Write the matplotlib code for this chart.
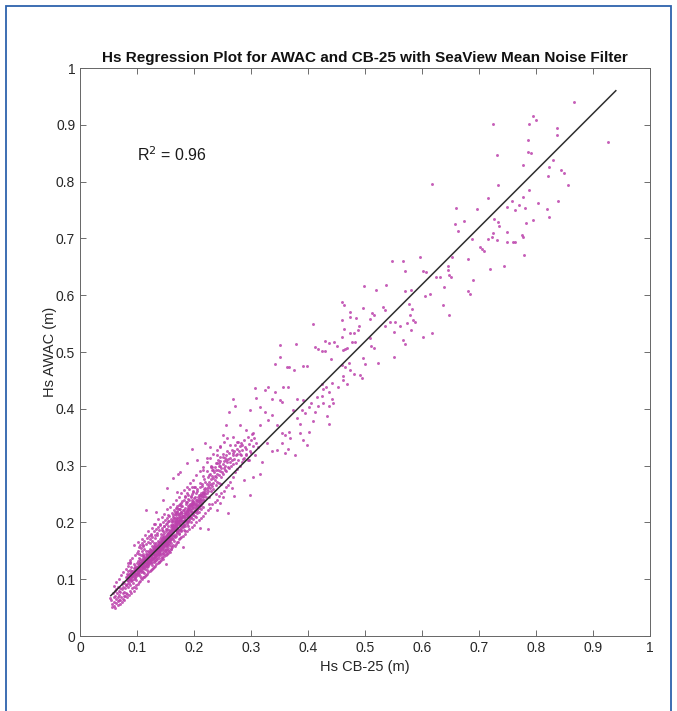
import matplotlib
matplotlib.use('Agg')
import matplotlib.pyplot as plt
import numpy as np
from matplotlib.patches import Rectangle

plt.rcParams['font.family'] = ['Liberation Sans', 'DejaVu Sans']

# Hs pairs (CB-25, AWAC) in thousandths of a metre
# scattered points above ~0.3 m and outliers
sparse_pts = [
    (867, 940), (725, 902), (794, 915), (800, 908), (787, 902), (837, 894), (836, 882), (926, 870),
    (786, 873), (732, 847), (786, 852), (791, 850), (778, 830), (829, 838), (823, 825), (821, 809),
    (844, 820), (849, 816), (856, 794), (733, 794), (787, 785), (777, 773), (715, 772), (758, 765),
    (804, 763), (839, 766), (770, 758), (749, 756), (781, 753), (763, 750), (820, 752), (696, 751),
    (823, 737), (727, 735), (617, 795), (660, 754),
    (658, 725), (663, 713), (673, 731), (734, 729), (735, 722), (725, 709), (722, 702), (715, 699),
    (731, 698), (702, 684), (705, 681), (708, 678), (749, 712), (749, 693), (759, 694), (764, 693),
    (775, 706), (778, 702), (782, 727), (794, 732), (779, 671), (744, 651), (719, 647), (689, 627),
    (680, 608), (685, 602), (681, 663), (688, 699), (548, 661), (566, 661), (596, 668), (570, 642),
    (602, 643), (607, 640), (625, 632), (632, 632), (646, 644), (647, 636), (651, 632), (646, 651),
    (652, 667), (639, 614), (614, 602), (606, 598), (580, 610), (570, 608), (537, 618), (531, 580),
    (535, 574), (578, 585), (582, 575), (579, 565), (584, 556), (553, 553), (544, 553), (535, 545),
    (550, 536), (561, 545), (573, 551), (588, 553), (580, 539), (602, 526), (617, 533), (637, 583),
    (648, 566),
    (409, 549), (379, 514), (459, 588), (463, 583), (496, 577), (513, 569), (515, 565), (509, 558),
    (485, 559), (490, 546), (473, 571), (474, 562), (459, 556), (463, 540), (473, 533), (480, 533),
    (477, 518), (482, 518), (488, 539), (509, 524), (511, 511), (515, 507), (496, 489), (500, 479),
    (523, 481), (468, 507), (465, 505), (440, 487), (412, 508), (418, 505), (424, 502), (430, 502),
    (430, 520), (436, 515), (392, 475), (398, 475), (375, 468), (459, 477), (465, 473), (473, 468),
    (462, 457), (461, 451), (491, 460), (494, 454), (468, 444), (453, 439), (442, 445), (424, 443),
    (427, 434), (432, 438), (415, 421), (424, 423), (437, 430), (442, 418), (444, 410), (437, 405),
    (427, 410), (418, 405), (406, 410), (401, 404), (392, 415), (380, 418), (374, 398), (389, 398),
    (395, 392), (380, 383), (386, 374), (412, 395), (433, 387), (436, 374), (408, 379), (550, 492),
    (570, 514), (567, 521),
    (498, 616), (519, 610), (350, 512), (351, 492), (342, 478), (363, 474), (367, 473), (342, 430),
    (446, 518), (450, 510), (459, 526), (462, 504), (472, 480), (480, 462),
    (307, 436), (325, 433), (330, 438), (357, 438), (365, 439), (351, 415), (354, 412), (336, 417),
    (316, 404), (309, 419), (298, 398), (269, 417), (262, 395), (272, 405), (386, 357), (367, 360),
    (354, 357), (360, 354), (345, 371), (336, 389), (325, 395), (330, 380), (315, 371), (304, 357),
    (292, 363), (281, 371), (269, 351), (257, 371), (251, 354), (246, 333), (263, 336), (275, 342),
    (284, 336), (292, 330), (313, 333), (328, 339), (336, 325), (307, 319), (295, 310), (281, 320),
    (269, 322), (257, 310), (243, 304), (240, 319), (228, 333), (222, 313), (231, 298), (216, 292),
    (360, 322), (377, 319), (354, 339), (368, 348), (392, 345), (398, 336),
    (365, 329), (319, 307), (304, 280), (298, 248), (316, 286), (266, 260), (287, 275), (345, 327),
    (402, 360), (260, 216), (225, 188), (246, 234), (251, 245), (115, 222), (146, 239), (172, 286),
    (175, 289), (196, 329), (164, 278), (170, 254), (134, 219), (152, 260), (187, 304), (205, 310),
    (219, 339), (88, 128), (129, 198),
]

# dense band below ~0.3 m
band_low = [
    (52, 67), (55, 63), (56, 56), (58, 75), (59, 69), (60, 60), (61, 79), (62, 71), (63, 65), (64, 83),
    (65, 76), (66, 68), (67, 87), (68, 80), (68, 63), (69, 73), (70, 85), (71, 77), (72, 69), (73, 91),
    (74, 82), (75, 75), (75, 95), (76, 86), (77, 78), (78, 71), (78, 93), (79, 84), (80, 89), (80, 76),
    (57, 51), (59, 53),
    (81, 104), (81, 89), (82, 98), (82, 110), (83, 92), (83, 103), (84, 86), (84, 99), (85, 107), (85, 114),
    (86, 94), (86, 102), (87, 109), (87, 90), (88, 100), (88, 117), (89, 106), (89, 96), (90, 111), (90, 103),
    (90, 122), (91, 98), (91, 108), (92, 115), (92, 104), (93, 93), (93, 111), (94, 120), (94, 107), (95, 100),
    (95, 114), (95, 126), (96, 109), (96, 102), (97, 117), (97, 124), (98, 106), (98, 113), (99, 99), (99, 120),
    (100, 110), (100, 128), (100, 117), (84, 124), (88, 130),
    (101, 107), (101, 124), (101, 116), (102, 132), (102, 113), (102, 121), (103, 127), (103, 110), (103, 138),
    (104, 119), (104, 125), (104, 114), (105, 132), (105, 122), (105, 106), (106, 129), (106, 117), (106, 136),
    (107, 124), (107, 113), (107, 142), (108, 128), (108, 120), (108, 134), (109, 115), (109, 131), (109, 125),
    (110, 138), (110, 122), (110, 129), (110, 113), (111, 133), (111, 126), (111, 145), (112, 120), (112, 136),
    (112, 130), (113, 124), (113, 141), (113, 133), (114, 118), (114, 127), (114, 138), (115, 131), (115, 144),
    (115, 123), (116, 135), (116, 128), (116, 150), (117, 125), (117, 140), (117, 133), (118, 121), (118, 145),
    (118, 136), (119, 130), (119, 142), (119, 127), (120, 138), (120, 149), (120, 132), (120, 124), (104, 144),
    (109, 150), (113, 154), (107, 102), (112, 111), (117, 116), (111, 140), (115, 137),
]

band_mid = [
    (121, 141), (121, 133), (121, 126), (122, 146), (122, 137), (122, 154), (123, 130), (123, 142), (123, 149),
    (124, 135), (124, 144), (124, 128), (125, 152), (125, 140), (125, 133), (126, 146), (126, 159), (126, 137),
    (127, 131), (127, 150), (127, 143), (128, 138), (128, 155), (128, 147), (129, 134), (129, 142), (129, 163),
    (130, 151), (130, 145), (130, 138), (130, 158), (131, 132), (131, 154), (131, 148), (132, 141), (132, 161),
    (132, 150), (133, 137), (133, 156), (133, 145), (134, 164), (134, 152), (134, 140), (135, 148), (135, 159),
    (135, 135), (136, 154), (136, 144), (136, 168), (137, 150), (137, 141), (137, 161), (138, 156), (138, 147),
    (138, 138), (139, 165), (139, 153), (139, 144), (140, 159), (140, 150), (140, 171), (140, 142), (123, 163),
    (127, 168), (131, 173), (135, 178), (126, 125), (130, 130), (134, 133), (138, 131), (124, 140), (128, 151),
    (132, 156), (136, 149), (139, 158), (122, 131), (125, 147), (129, 154), (133, 151), (137, 156), (121, 148),
    (127, 136), (131, 143), (135, 154), (139, 148),
    (141, 157), (141, 164), (141, 147), (142, 161), (142, 153), (142, 174), (143, 168), (143, 158), (143, 145),
    (144, 163), (144, 171), (144, 154), (145, 166), (145, 177), (145, 150), (146, 160), (146, 170), (146, 157),
    (147, 174), (147, 164), (147, 153), (148, 167), (148, 159), (148, 182), (149, 171), (149, 162), (149, 149),
    (150, 176), (150, 166), (150, 158), (150, 185), (151, 170), (151, 161), (151, 154), (152, 179), (152, 173),
    (152, 164), (153, 168), (153, 158), (153, 189), (154, 176), (154, 171), (154, 162), (155, 182), (155, 174),
    (155, 155), (156, 169), (156, 178), (156, 164), (157, 186), (157, 173), (157, 160), (158, 180), (158, 176),
    (158, 168), (159, 192), (159, 182), (159, 163), (160, 177), (160, 184), (160, 171), (160, 159), (144, 186),
    (148, 194), (152, 199), (156, 202), (143, 139), (147, 144), (151, 148), (155, 151), (159, 154), (142, 167),
    (146, 175), (150, 172), (154, 180), (158, 185), (141, 155), (145, 161), (149, 166), (153, 174), (157, 177),
    (146, 147), (150, 152), (154, 167), (158, 172), (142, 180), (146, 184), (151, 189), (155, 193), (160, 196),
    (161, 185), (161, 193), (161, 176), (162, 189), (162, 200), (162, 181), (163, 195), (163, 186), (163, 170),
    (164, 192), (164, 204), (164, 183), (165, 198), (165, 189), (165, 178), (166, 194), (166, 208), (166, 186),
    (167, 201), (167, 190), (167, 175), (168, 196), (168, 205), (168, 187), (169, 200), (169, 213), (169, 192),
    (170, 204), (170, 195), (170, 183), (170, 218), (171, 199), (171, 208), (171, 190), (172, 203), (172, 214),
    (172, 186), (173, 207), (173, 198), (173, 179), (174, 211), (174, 202), (174, 223), (175, 206), (175, 197),
    (175, 188), (176, 209), (176, 216), (176, 201), (177, 204), (177, 228), (177, 194), (178, 213), (178, 207),
    (178, 184), (179, 217), (179, 209), (179, 200), (180, 212), (180, 222), (180, 203), (180, 193), (163, 213),
    (167, 218), (171, 226), (175, 233), (179, 238), (165, 168), (169, 176), (173, 181), (177, 186), (162, 196),
    (166, 202), (170, 208), (174, 214), (178, 219), (164, 190), (168, 194), (172, 200), (176, 204), (161, 203),
    (165, 208), (169, 216), (173, 223), (177, 218),
]

band_high = [
    (181, 203), (181, 212), (181, 192), (182, 207), (182, 221), (182, 198), (183, 211), (183, 202), (183, 186),
    (184, 215), (184, 226), (184, 205), (185, 210), (185, 219), (185, 194), (186, 214), (186, 232), (186, 204),
    (187, 218), (187, 209), (187, 197), (188, 222), (188, 236), (188, 213), (189, 217), (189, 226), (189, 201),
    (190, 221), (190, 212), (190, 242), (190, 229), (191, 225), (191, 215), (191, 204), (192, 230), (192, 220),
    (192, 239), (193, 224), (193, 233), (193, 210), (194, 228), (194, 218), (194, 246), (195, 232), (195, 222),
    (195, 207), (196, 236), (196, 226), (196, 250), (197, 230), (197, 219), (197, 240), (198, 234), (198, 225),
    (198, 213), (199, 238), (199, 228), (199, 254), (200, 232), (200, 243), (200, 220), (184, 244), (188, 252),
    (192, 258), (196, 262), (185, 184), (190, 194), (194, 200), (198, 206),
    (201, 222), (201, 233), (201, 212), (202, 227), (202, 244), (203, 220), (203, 231), (203, 210), (204, 236),
    (204, 225), (204, 252), (205, 229), (205, 240), (205, 216), (206, 233), (206, 224), (206, 258), (207, 238),
    (207, 228), (208, 242), (208, 231), (208, 219), (209, 236), (209, 248), (210, 240), (210, 229), (210, 262),
    (211, 244), (211, 234), (212, 248), (212, 238), (212, 224), (213, 252), (213, 241), (214, 246), (214, 235),
    (214, 268), (215, 250), (215, 240), (215, 227), (216, 254), (216, 244), (217, 258), (217, 247), (218, 252),
    (218, 239), (219, 256), (219, 272), (220, 250), (220, 261),
    (221, 245), (222, 258), (222, 268), (223, 252), (224, 262), (224, 280), (225, 255), (226, 266), (226, 245),
    (227, 272), (228, 260), (228, 285), (229, 268), (230, 276), (230, 255), (231, 264), (232, 282), (232, 292),
    (233, 270), (234, 278), (234, 259), (235, 288), (236, 274), (236, 298), (237, 282), (238, 266), (238, 292),
    (239, 280), (240, 286), (240, 304), (241, 272), (242, 292), (243, 284), (244, 300), (244, 270), (245, 290),
    (246, 308), (247, 280), (248, 296), (249, 288), (250, 302), (250, 315), (251, 285), (252, 296), (253, 308),
    (254, 292), (255, 300), (256, 318), (257, 290), (258, 306), (259, 298), (260, 312), (226, 232), (238, 250),
    (248, 268),
    (261, 296), (262, 322), (263, 306), (264, 314), (265, 300), (266, 328), (267, 310), (268, 318), (269, 302),
    (270, 325), (271, 312), (272, 336), (273, 318), (274, 305), (275, 330), (276, 320), (277, 342), (278, 310),
    (279, 326), (280, 335), (282, 318), (283, 340), (285, 328), (286, 312), (288, 345), (290, 332), (292, 320),
    (294, 350), (296, 338), (298, 326), (300, 345), (302, 356), (304, 335), (306, 348), (308, 340),
]

# wider edges of the band (points further above / below the fit)
band_edges = [
    (60, 88), (62, 50), (64, 95), (66, 54), (68, 100), (70, 56), (72, 108), (74, 60), (76, 112), (78, 64),
    (80, 118), (82, 68), (84, 128), (86, 72), (88, 134), (90, 76), (92, 138), (94, 80), (96, 142), (98, 84),
    (100, 146), (63, 58), (67, 62), (71, 63), (75, 66), (79, 70), (83, 74), (87, 79), (91, 84), (95, 86),
    (99, 90),
    (101, 150), (102, 92), (103, 156), (104, 95), (105, 160), (106, 97), (107, 155), (108, 100), (109, 164),
    (110, 103), (111, 158), (112, 104), (113, 168), (114, 106), (115, 162), (116, 108), (117, 172), (118, 110),
    (119, 166), (120, 112), (121, 176), (122, 114), (123, 170), (124, 116), (125, 180), (126, 118), (127, 174),
    (128, 120), (129, 184), (130, 122), (131, 178), (132, 124), (133, 188), (134, 126), (135, 182), (136, 128),
    (137, 192), (138, 130), (139, 186), (140, 132),
    (141, 196), (142, 134), (143, 190), (144, 138), (145, 200), (146, 136), (147, 194), (148, 140), (149, 204),
    (150, 142), (151, 198), (152, 145), (153, 208), (154, 146), (155, 202), (156, 150), (157, 212), (158, 148),
    (159, 206), (160, 154), (161, 216), (162, 156), (163, 210), (164, 160), (165, 222), (166, 158), (167, 214),
    (168, 162), (169, 226), (170, 165), (171, 220), (172, 166), (173, 230), (174, 170), (175, 224), (176, 172),
    (177, 234), (178, 174), (179, 228), (180, 176), (182, 240), (184, 180), (186, 236), (188, 184), (190, 248),
    (192, 188), (194, 244), (196, 192), (198, 256), (200, 196),
    (202, 262), (204, 200), (206, 256), (208, 204), (210, 270), (212, 208), (214, 264), (216, 212), (218, 276),
    (220, 216), (222, 290), (224, 222), (226, 284), (228, 226), (230, 298), (232, 232), (234, 292), (236, 236),
    (238, 304), (240, 240), (242, 310), (244, 246), (246, 300), (248, 252), (250, 320), (252, 256), (254, 314),
    (256, 262), (258, 326), (260, 266), (264, 272), (268, 280), (272, 288), (276, 294), (280, 300), (284, 306),
    (288, 314), (292, 318), (296, 310), (300, 322),
]

# extra points filling the densest core
band_core = [
    (85, 97), (86, 110), (87, 101), (89, 112), (90, 98), (91, 115), (93, 106), (94, 113), (96, 104), (97, 119),
    (99, 110), (100, 122), (102, 111), (103, 124), (105, 116), (106, 128), (108, 118), (109, 131), (111, 121),
    (112, 134), (114, 124), (115, 138), (117, 127), (118, 140), (120, 130), (121, 144), (123, 133), (124, 146),
    (126, 136), (127, 150), (129, 139), (130, 153), (132, 142), (133, 157), (135, 145), (136, 160), (138, 148),
    (139, 163), (141, 152), (142, 166), (144, 155), (145, 169), (147, 158), (148, 172), (150, 161), (151, 176),
    (153, 164), (154, 179), (156, 167), (157, 183), (159, 170), (160, 186), (162, 173), (163, 190), (165, 176),
    (166, 193), (168, 180), (169, 197), (171, 183), (172, 201), (174, 186), (175, 205), (177, 190), (178, 208),
    (180, 193), (181, 212), (183, 196), (184, 216), (186, 200), (187, 220), (189, 203), (190, 224), (192, 207),
    (193, 228), (195, 210), (196, 232), (198, 214), (199, 236), (201, 218), (203, 240), (205, 222), (207, 244),
    (209, 226), (211, 248), (213, 230), (215, 252),
]

# loose points just outside the band, mostly on the upper side
band_fuzz = [
    (95, 160), (102, 165), (108, 171), (114, 178), (120, 185), (126, 191), (132, 197), (137, 206), (143, 209),
    (148, 215), (153, 223), (158, 227), (163, 233), (168, 239), (173, 245), (178, 251), (183, 257), (188, 263),
    (193, 269), (198, 275), (204, 283), (210, 291), (216, 297), (222, 307), (228, 313), (234, 321), (240, 327),
    (246, 335), (252, 341), (258, 349), (110, 161), (125, 177), (140, 197), (155, 213), (170, 229), (185, 247),
    (200, 263), (215, 281), (230, 299), (245, 316),
    (120, 96), (150, 126), (180, 156), (210, 190), (240, 222), (270, 246),
]

# fitted line end points and R^2
fit_x = [0.054, 0.940]
fit_y = [0.071, 0.960]
r_squared = 0.96

pts = np.array(sparse_pts + band_low + band_mid + band_high + band_edges + band_core + band_fuzz) / 1000.0
hs_cb25 = pts[:, 0]
hs_awac = pts[:, 1]

fig = plt.figure(figsize=(6.77, 7.11), dpi=100)
ax = fig.add_axes([80 / 677, 75 / 711, 570 / 677, 568 / 711])

ax.scatter(hs_cb25, hs_awac, s=4.5, color='#bc42ac', marker='o', linewidths=0, alpha=0.85, zorder=2)
ax.plot(fit_x, fit_y, color='#2e2e2e', lw=1.1, zorder=3)

ax.text(0.10, 0.847, r'R$^2$ = %.2f' % r_squared, fontsize=11.5, color='#1a1a1a', va='center')

ax.set_xlim(0, 1)
ax.set_ylim(0, 1)
tks = [0, 0.1, 0.2, 0.3, 0.4, 0.5, 0.6, 0.7, 0.8, 0.9, 1]
tk_labels = ['0', '0.1', '0.2', '0.3', '0.4', '0.5', '0.6', '0.7', '0.8', '0.9', '1']
ax.set_xticks(tks)
ax.set_yticks(tks)
ax.set_xticklabels(tk_labels)
ax.set_yticklabels(tk_labels)
ax.tick_params(direction='in', top=True, right=True, length=4, width=0.6,
               colors='#555555', labelcolor='#262626', labelsize=10)
for sp in ax.spines.values():
    sp.set_color('#666666')
    sp.set_linewidth(0.7)

ax.set_xlabel('Hs CB-25 (m)', fontsize=10.5, color='#262626', labelpad=4)
ax.set_ylabel('Hs AWAC (m)', fontsize=10.5, color='#262626', labelpad=-1)
ax.set_title('Hs Regression Plot for AWAC and CB-25 with SeaView Mean Noise Filter',
             fontsize=11, fontweight='bold', color='#111111', pad=4)

# blue frame round the figure
fig.patches.append(Rectangle((6 / 677, -0.02), 665 / 677, 1 - 6 / 711 + 0.02,
                             transform=fig.transFigure, fill=False,
                             edgecolor='#2d62ad', lw=1.3))

fig.savefig('out.png', dpi=100)
